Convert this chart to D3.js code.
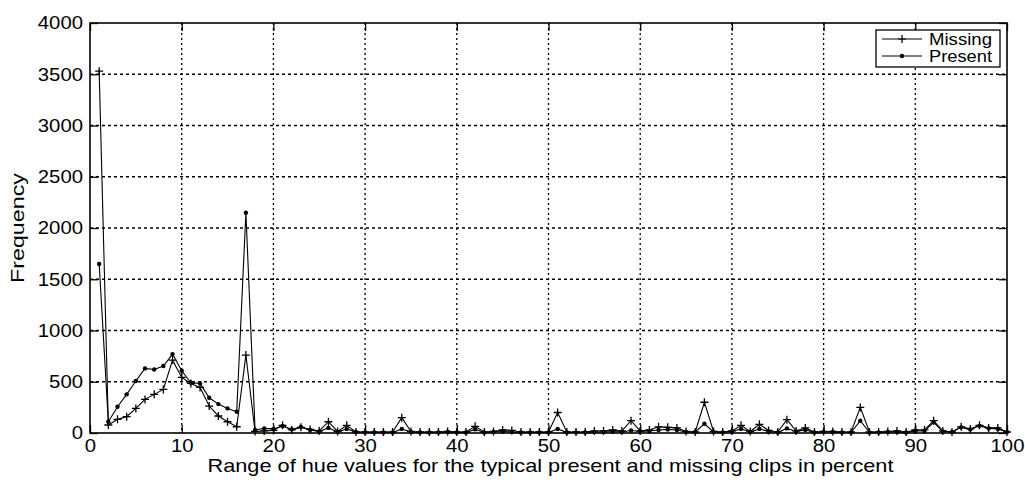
<!DOCTYPE html>
<html>
<head>
<meta charset="utf-8">
<script src="https://cdn.jsdelivr.net/npm/d3@7"></script>
<style>
  html, body { margin: 0; padding: 0; background: #fff; }
  svg { display: block; font-family: "Liberation Sans", Arial, sans-serif; }
</style>
</head>
<body>
<svg id="chart" width="1025" height="485"></svg>
<script>
// Hue bins (percent) 1..100
const hueBins = d3.range(1, 101);

// Frequency of hue ranges for clips where the object is missing
const missingFreq = [
  3530, 78, 133, 159, 240, 328, 377, 425, 711, 542,
  484, 445, 263, 166, 110, 61, 760, 15, 20, 25,
  75, 30, 55, 35, 20, 110, 15, 75, 10, 10,
  10, 10, 10, 150, 15, 10, 10, 10, 15, 10,
  10, 65, 10, 15, 30, 25, 10, 10, 10, 10,
  200, 10, 10, 10, 20, 20, 30, 20, 120, 20,
  30, 60, 55, 50, 15, 10, 300, 15, 10, 20,
  75, 15, 85, 25, 10, 130, 20, 50, 10, 15,
  15, 10, 10, 250, 10, 10, 15, 20, 10, 30,
  30, 120, 20, 10, 60, 40, 75, 50, 50, 10
];

// Frequency of hue ranges for clips where the object is present
const presentFreq = [
  1650, 110, 256, 377, 507, 630, 620, 653, 770, 607,
  490, 484, 344, 282, 240, 208, 2150, 30, 45, 40,
  68, 35, 60, 30, 15, 50, 10, 40, 10, 5,
  5, 5, 5, 40, 10, 5, 5, 5, 10, 5,
  5, 35, 5, 10, 15, 10, 5, 5, 5, 5,
  40, 5, 5, 5, 10, 10, 15, 10, 25, 15,
  20, 30, 35, 30, 10, 10, 90, 10, 5, 15,
  40, 10, 40, 15, 5, 45, 15, 30, 5, 10,
  10, 5, 5, 120, 5, 5, 10, 10, 5, 20,
  20, 105, 15, 10, 55, 35, 70, 45, 40, 10
];

const xTicks = [0, 10, 20, 30, 40, 50, 60, 70, 80, 90, 100];
const yTicks = [0, 500, 1000, 1500, 2000, 2500, 3000, 3500, 4000];
const seriesNames = ["Missing", "Present"];

const svg = d3.select("#chart");
const margin = { left: 90, right: 18, top: 23, bottom: 52 };
const W = 1025, H = 485;
const iw = W - margin.left - margin.right;
const ih = H - margin.top - margin.bottom;

const x = d3.scaleLinear().domain([0, 100]).range([0, iw]);
const y = d3.scaleLinear().domain([0, 4000]).range([ih, 0]);

const g = svg.append("g").attr("transform", `translate(${margin.left},${margin.top})`);

// Dotted grid
g.append("g").selectAll("line").data(xTicks.slice(1, -1)).join("line")
  .attr("x1", d => x(d)).attr("x2", d => x(d))
  .attr("y1", 0).attr("y2", ih)
  .attr("stroke", "#000").attr("stroke-width", 1.3)
  .attr("stroke-dasharray", "2,3");
g.append("g").selectAll("line").data(yTicks.slice(1, -1)).join("line")
  .attr("x1", 0).attr("x2", iw)
  .attr("y1", d => y(d)).attr("y2", d => y(d))
  .attr("stroke", "#000").attr("stroke-width", 1.3)
  .attr("stroke-dasharray", "3,3");

// Axes with inward ticks
const fmt = d3.format("d");
const xAxis = d3.axisBottom(x).tickValues(xTicks).tickFormat(fmt).tickSizeInner(-8).tickSizeOuter(0).tickPadding(6);
const yAxis = d3.axisLeft(y).tickValues(yTicks).tickFormat(fmt).tickSizeInner(-8).tickSizeOuter(0).tickPadding(7);

const gx = g.append("g").attr("transform", `translate(0,${ih})`).call(xAxis);
const gy = g.append("g").call(yAxis);
// ticks on top and right edges too
g.append("g").call(d3.axisTop(x).tickValues(xTicks).tickSizeInner(-8).tickSizeOuter(0).tickFormat(""));
g.append("g").attr("transform", `translate(${iw},0)`)
  .call(d3.axisRight(y).tickValues(yTicks).tickSizeInner(-8).tickSizeOuter(0).tickFormat(""));

svg.selectAll(".domain").remove();
svg.selectAll(".tick line").attr("stroke", "#000").attr("stroke-width", 1.3);
// wide digits: each glyph about 11.5px across
gx.selectAll("text").attr("font-size", 18).attr("fill", "#000")
  .attr("textLength", d => String(d).length * 11.3).attr("lengthAdjust", "spacingAndGlyphs");
gy.selectAll("text").attr("font-size", 18).attr("fill", "#000")
  .attr("textLength", d => String(d).length * 11.3).attr("lengthAdjust", "spacingAndGlyphs");

// Box
g.append("rect").attr("x", 0).attr("y", 0).attr("width", iw).attr("height", ih)
  .attr("fill", "none").attr("stroke", "#000").attr("stroke-width", 1.6);

// Series
const line = d3.line().x((d, i) => x(hueBins[i])).y(d => y(d));

g.append("path").datum(missingFreq).attr("d", line)
  .attr("fill", "none").attr("stroke", "#000").attr("stroke-width", 1.1);
g.append("path").datum(presentFreq).attr("d", line)
  .attr("fill", "none").attr("stroke", "#000").attr("stroke-width", 1.1);

// '+' markers for Missing
const ps = 4;
g.append("g").selectAll("path").data(missingFreq).join("path")
  .attr("d", (d, i) => {
    const cx = x(hueBins[i]), cy = y(d);
    return `M${cx - ps},${cy}H${cx + ps}M${cx},${cy - ps}V${cy + ps}`;
  })
  .attr("stroke", "#000").attr("stroke-width", 1.3).attr("fill", "none");

// '.' markers for Present
g.append("g").selectAll("circle").data(presentFreq).join("circle")
  .attr("cx", (d, i) => x(hueBins[i])).attr("cy", d => y(d))
  .attr("r", 2.2).attr("fill", "#000");

// Legend
const lg = g.append("g").attr("transform", `translate(${876 - margin.left},${30 - margin.top})`);
lg.append("rect").attr("x", 0).attr("y", 0).attr("width", 124).attr("height", 37)
  .attr("fill", "#fff").attr("stroke", "#000").attr("stroke-width", 1.3);
seriesNames.forEach((name, k) => {
  const ly = 9 + k * 17;
  lg.append("line").attr("x1", 6).attr("x2", 46).attr("y1", ly).attr("y2", ly)
    .attr("stroke", "#000").attr("stroke-width", 1);
  if (k === 0) {
    lg.append("path").attr("d", `M${26 - ps},${ly}H${26 + ps}M26,${ly - ps}V${ly + ps}`)
      .attr("stroke", "#000").attr("stroke-width", 1.2);
  } else {
    lg.append("circle").attr("cx", 26).attr("cy", ly).attr("r", 2.2).attr("fill", "#000");
  }
  lg.append("text").attr("x", 53).attr("y", ly + 6).attr("font-size", 16).attr("fill", "#000")
    .attr("textLength", 63).attr("lengthAdjust", "spacingAndGlyphs").text(name);
});

// Axis titles
svg.append("text").attr("x", margin.left + iw / 2 + 2).attr("y", 472)
  .attr("text-anchor", "middle").attr("font-size", 19).attr("fill", "#000")
  .attr("textLength", 686).attr("lengthAdjust", "spacingAndGlyphs")
  .text("Range of hue values for the typical present and missing clips in percent");
svg.append("text").attr("transform", `translate(24,${margin.top + ih / 2}) rotate(-90)`)
  .attr("text-anchor", "middle").attr("font-size", 19).attr("fill", "#000")
  .attr("textLength", 110).attr("lengthAdjust", "spacingAndGlyphs")
  .text("Frequency");
</script>
</body>
</html>
